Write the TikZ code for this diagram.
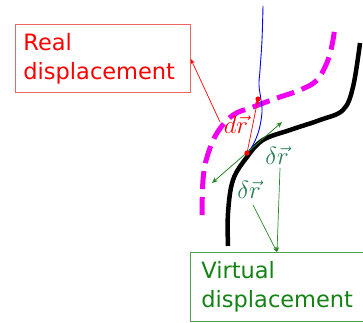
\documentclass[tikz,border=0pt]{standalone}
\usepackage{fontspec}
\setmainfont{DejaVu Sans}
\usetikzlibrary{arrows.meta}
\definecolor{boxred}{RGB}{240,100,100}
\definecolor{boxgreen}{RGB}{80,160,80}
\definecolor{txtgreen}{RGB}{20,130,20}
\definecolor{arrgreen}{RGB}{40,135,40}
\definecolor{lblgreen}{RGB}{40,125,80}
\definecolor{mag}{RGB}{240,0,240}
\begin{document}
\begin{tikzpicture}[x=1pt,y=-1pt,
  labelbox/.style={draw, line width=0.8pt, anchor=north west, align=left,
    inner xsep=8pt, inner ysep=0pt, font=\fontsize{22.5}{29}\selectfont},
  thinarrow/.style={line width=0.7pt, -{Stealth[length=5pt,width=4pt]}},
  mathlbl/.style={font=\fontsize{24}{26}\selectfont, inner sep=0pt}]
\useasboundingbox (0,0) rectangle (363,322);
% boxes
\node[labelbox, draw=boxred, text=red, minimum width=175pt, minimum height=68pt, text width=159pt] (real) at (15,24) {Real\\displacement};
\node[labelbox, draw=boxgreen, text=txtgreen, minimum width=178pt, minimum height=69pt, text width=165pt, inner xsep=11pt] (virt) at (190,252) {Virtual\\displacement};
% curves
\draw[mag, line width=5pt, dash pattern=on 18pt off 8pt] plot[smooth, tension=0.6] coordinates {(202,215) (203,180) (207,157) (217,133) (233,115) (253,107) (277,98) (300,90) (317,80) (328,60) (333,40) (335,25)};
\draw[black, line width=4.5pt] plot[smooth, tension=0.6] coordinates {(228,246) (228,213) (233,180) (247,157) (263,140) (290,130) (320,120) (343,110) (353,87) (360,43)};
\draw[blue, line width=0.9pt] plot[smooth, tension=0.6] coordinates {(263,6) (262,40) (260,70) (259,85) (261,100) (262,112) (259,130) (253,145) (247,153)};
% points
\coordinate (P1) at (247,153);
\coordinate (P2) at (258,99);
\draw[line width=0.8pt, arrgreen, {Stealth[length=6pt,width=5pt]}-{Stealth[length=6pt,width=5pt]}] (212,183) coordinate (vl) -- (282,122) coordinate (vr);
\draw[red, thinarrow] (P1) -- (P2);
\fill[red] (P1) circle (2.6pt);
\fill[red] (P2) circle (2.6pt);
% labels
\node[mathlbl, text=red] (dr) at (236,125) {$d\vec r$};
\node[mathlbl, text=lblgreen] (d1) at (277,156) {$\delta\vec r$};
\node[mathlbl, text=lblgreen] (d2) at (249,190) {$\delta\vec r$};
% connectors
\coordinate (rs) at (220,122);
\draw[red, thinarrow] (rs) -- (real.east |- 0,59);
\coordinate (vt) at (277,252);
\draw[arrgreen, thinarrow] (280,168) coordinate (a1) -- (vt);
\draw[arrgreen, thinarrow] (253,205) coordinate (a2) -- (vt);
\end{tikzpicture}
\end{document}
